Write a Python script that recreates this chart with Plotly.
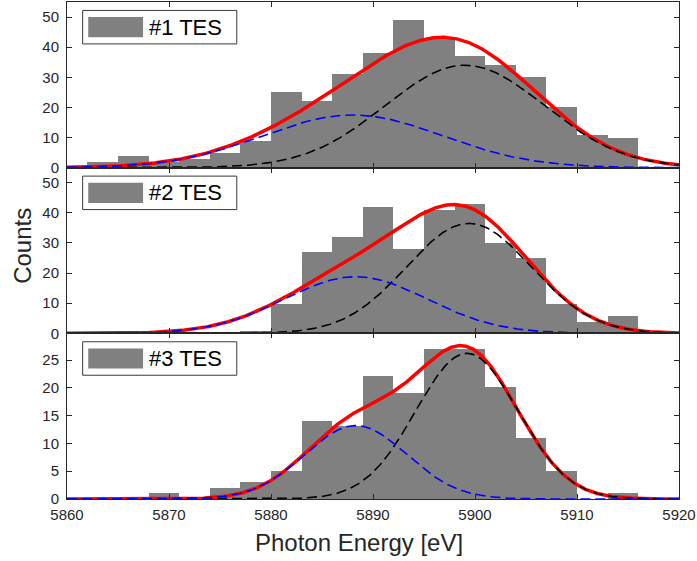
import numpy as np
import plotly.graph_objects as go

# ---------------- data ----------------
bin_starts = [5862, 5865, 5868, 5871, 5874, 5877, 5880, 5883, 5886,
              5889, 5892, 5895, 5898, 5901, 5904, 5907, 5910, 5913]
bin_width = 3

counts_tes1 = [2, 4, 2, 3, 5, 9, 25, 22, 31, 38, 49, 43, 37, 34, 30, 20, 11, 10]
counts_tes2 = [0, 0, 0, 0, 0, 1, 10, 27, 32, 42, 28, 41, 43, 30, 25, 10, 4, 6]
counts_tes3 = [0, 0, 1, 0, 2, 3, 5, 14, 13, 22, 19, 27, 27, 20, 11, 5, 0, 1]

# Gaussian fit components: (amplitude, centre eV, sigma eV)
fit_blue_tes1 = (17.5, 5888.0, 8.8)
fit_black_tes1 = (34.0, 5899.0, 7.8)
fit_blue_tes2 = (18.8, 5888.3, 7.0)
fit_black_tes2 = (36.5, 5899.4, 6.1)
fit_blue_tes3 = (13.2, 5888.3, 5.0)
fit_black_tes3 = (26.2, 5899.2, 5.0)

labels = ["#1 TES", "#2 TES", "#3 TES"]
x_ticks = [5860, 5870, 5880, 5890, 5900, 5910, 5920]
y_ticks_12 = [0, 10, 20, 30, 40, 50]
y_ticks_3 = [0, 5, 10, 15, 20, 25]

# ---------------- figure ----------------
x_fine = np.linspace(5860, 5920, 601)


def gauss(p):
    a, m, s = p
    return a * np.exp(-(x_fine - m) ** 2 / (2 * s ** 2))


AX = "#262626"
FONT = "Liberation Sans, Arial, Helvetica, sans-serif"

fig = go.Figure()
panels = [
    (counts_tes1, fit_blue_tes1, fit_black_tes1, "x", "y"),
    (counts_tes2, fit_blue_tes2, fit_black_tes2, "x2", "y2"),
    (counts_tes3, fit_blue_tes3, fit_black_tes3, "x3", "y3"),
]
for counts, pb, pk, xa, ya in panels:
    fig.add_trace(go.Bar(x=bin_starts, y=counts, width=bin_width, offset=0,
                         marker=dict(color="#808080", line=dict(width=0)),
                         xaxis=xa, yaxis=ya, showlegend=False, hoverinfo="skip"))
    gb = gauss(pb)
    gk = gauss(pk)
    fig.add_trace(go.Scatter(x=x_fine, y=gb + gk, mode="lines",
                             line=dict(color="#ff0000", width=3.5),
                             xaxis=xa, yaxis=ya, showlegend=False))
    fig.add_trace(go.Scatter(x=x_fine, y=gk, mode="lines",
                             line=dict(color="#000000", width=1.6, dash="10px,5px"),
                             xaxis=xa, yaxis=ya, showlegend=False))
    fig.add_trace(go.Scatter(x=x_fine, y=gb, mode="lines",
                             line=dict(color="#0000ff", width=1.6, dash="10px,5px"),
                             xaxis=xa, yaxis=ya, showlegend=False))

common_x = dict(range=[5860, 5920], tickvals=x_ticks, ticks="inside", ticklen=5,
                tickcolor=AX, showline=True, linecolor=AX, linewidth=1,
                mirror="ticks", showgrid=False, zeroline=False,
                ticklabeloverflow="allow",
                tickfont=dict(size=15, color=AX, family=FONT))
common_y = dict(ticks="inside", ticklen=5, tickcolor=AX, showline=True,
                linecolor=AX, linewidth=1, mirror="ticks", showgrid=False,
                zeroline=False, tickfont=dict(size=15, color=AX, family=FONT),
                ticklabelstandoff=4)

fig.update_layout(
    width=697, height=561,
    margin=dict(l=67, r=16, t=1, b=62),
    plot_bgcolor="white", paper_bgcolor="white",
    bargap=0, barmode="overlay",
    xaxis=dict(common_x, anchor="y", showticklabels=False),
    xaxis2=dict(common_x, anchor="y2", showticklabels=False, matches="x"),
    xaxis3=dict(common_x, anchor="y3", showticklabels=True, matches="x",
                ticklabelstandoff=2),
    yaxis=dict(common_y, domain=[2 / 3, 1], range=[0, 55], tickvals=y_ticks_12),
    yaxis2=dict(common_y, domain=[1 / 3, 2 / 3], range=[0, 55], tickvals=y_ticks_12),
    yaxis3=dict(common_y, domain=[0, 1 / 3], range=[0, 29.8], tickvals=y_ticks_3),
)

# legend boxes drawn per panel
shapes = []
annotations = []
for (xa, ya), lab in zip([("x", "y"), ("x2", "y2"), ("x3", "y3")], labels):
    shapes.append(dict(type="rect", xref=f"{xa} domain", yref=f"{ya} domain",
                       x0=0.0256, x1=0.2774, y0=0.747, y1=0.949,
                       line=dict(color="#3a3a3a", width=1), fillcolor="white",
                       layer="above"))
    shapes.append(dict(type="rect", xref=f"{xa} domain", yref=f"{ya} domain",
                       x0=0.0347, x1=0.1243, y0=0.787, y1=0.909,
                       line=dict(width=0), fillcolor="#808080", layer="above"))
    annotations.append(dict(text=lab, xref=f"{xa} domain", yref=f"{ya} domain",
                            x=0.131, y=0.849, xanchor="left", yanchor="middle",
                            showarrow=False,
                            font=dict(size=22, color="#000000", family=FONT)))

annotations.append(dict(text="Counts", xref="paper", yref="paper",
                        x=-0.073, y=0.51, textangle=-90, xanchor="center",
                        yanchor="middle", showarrow=False,
                        font=dict(size=24, color=AX, family=FONT)))
annotations.append(dict(text="Photon Energy [eV]", xref="paper", yref="paper",
                        x=0.477, y=-0.088, xanchor="center", yanchor="middle",
                        showarrow=False,
                        font=dict(size=24, color=AX, family=FONT)))

fig.update_layout(shapes=shapes, annotations=annotations)
fig.write_html("out.html",
               config={"displayModeBar": False},
               post_script="document.body.style.margin='0';"
                           "document.body.style.overflow='hidden';")
